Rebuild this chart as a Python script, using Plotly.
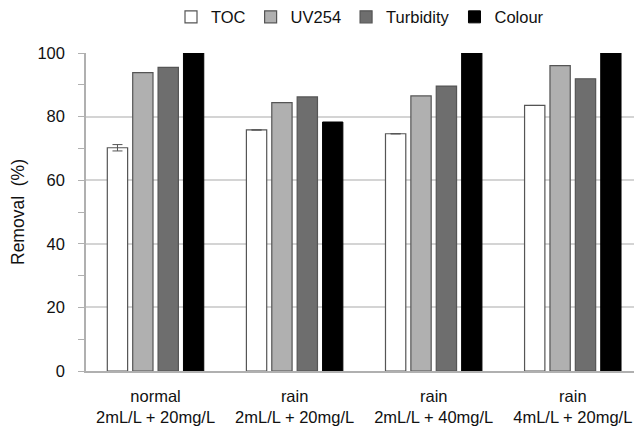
import plotly.graph_objects as go

# Coagulation trials: removal efficiency per condition
conditions = ["normal<br>2mL/L + 20mg/L", "rain<br>2mL/L + 20mg/L",
              "rain<br>2mL/L + 40mg/L", "rain<br>4mL/L + 20mg/L"]
toc = [70.2, 75.8, 74.6, 83.5]
toc_err = [1.0, None, None, None]
uv254 = [93.8, 84.4, 86.5, 96.0]
turbidity = [95.5, 86.2, 89.6, 91.9]
colour = [100, 78.3, 100, 100]

FONT = "Liberation Sans, Arial, sans-serif"
edge = dict(color="#555555", width=1.2)

fig = go.Figure()
fig.add_trace(go.Bar(name="TOC", x=conditions, y=toc,
                     marker=dict(color="white", line=edge),
                     error_y=dict(type="data", array=toc_err, color="#555555",
                                  thickness=1, width=5)))
fig.add_trace(go.Bar(name="UV254", x=conditions, y=uv254,
                     marker=dict(color="#b0b0b0", line=edge)))
fig.add_trace(go.Bar(name="Turbidity", x=conditions, y=turbidity,
                     marker=dict(color="#6e6e6e", line=edge)))
fig.add_trace(go.Bar(name="Colour", x=conditions, y=colour,
                     marker=dict(color="black", line=dict(color="black", width=1))))

fig.update_layout(
    width=634, height=428,
    margin=dict(l=86, r=0, t=53, b=57),
    paper_bgcolor="white", plot_bgcolor="white",
    barmode="group", bargap=0.27, bargroupgap=0.2,
    font=dict(family=FONT, size=15, color="#111111"),
    legend=dict(orientation="h", x=0.5, xanchor="center", y=0.96, yanchor="middle",
                yref="container", font=dict(size=16.5), itemwidth=30,
                traceorder="normal", bgcolor="rgba(0,0,0,0)"),
    xaxis=dict(type="category", range=[-0.5, 3.44], showline=True,
               linecolor="#b0b0b0", linewidth=1.5, ticks="", showgrid=False,
               tickfont=dict(size=16.5), ticklabelstandoff=9),
    yaxis=dict(range=[0, 100], dtick=20, showline=True, linecolor="#b0b0b0",
               linewidth=1.5, ticks="outside", ticklen=6, tickcolor="#b0b0b0",
               showgrid=True, gridcolor="#d4d4d4", gridwidth=1.5,
               minor=dict(dtick=10, ticks="outside", ticklen=6, tickcolor="#b0b0b0",
                          showgrid=False),
               tickfont=dict(size=16.5), ticklabelstandoff=10, zeroline=False,
               title=dict(text="Removal  (%)", font=dict(size=17.5), standoff=8)),
)

fig.write_html("out.html")
